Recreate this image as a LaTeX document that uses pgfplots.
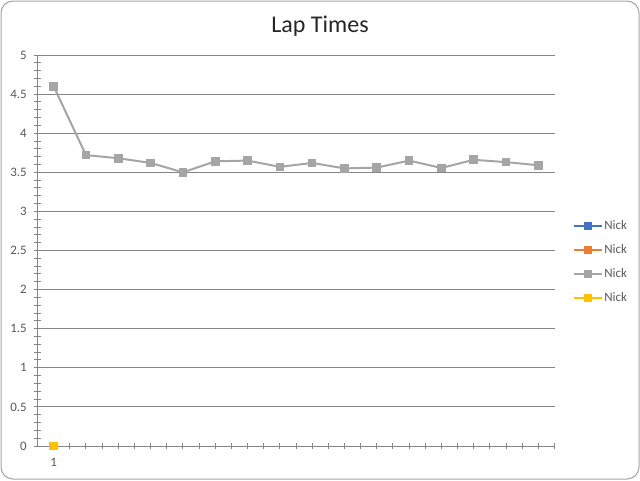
\documentclass[border=0pt]{standalone}
\usepackage{fontspec}
\setmainfont{Carlito}
\usepackage{pgfplots}
\pgfplotsset{compat=1.18}
\definecolor{xblue}{HTML}{4472C4}
\definecolor{xorange}{HTML}{ED7D31}
\definecolor{xgray}{HTML}{A5A5A5}
\definecolor{xyellow}{HTML}{FFC000}
\definecolor{gridc}{HTML}{868686}
\definecolor{labc}{HTML}{595959}
\pgfplotsset{mylegend/.style={legend image code/.code={
    \draw[##1, mark repeat=2, mark phase=2] plot coordinates {(0pt,0pt) (10.5pt,0pt) (21pt,0pt)};
  }}}
\begin{document}
\begin{tikzpicture}
\begin{scope}[x=0.75pt,y=0.75pt]
\useasboundingbox (0,0) rectangle (640,480);
\draw[draw=black!35, fill=white, line width=0.75pt, rounded corners=9] (1,1) rectangle (639,479);
\node[font=\fontsize{18}{21}\selectfont, text=black!85] at (320,454) {Lap Times};
\end{scope}
\begin{axis}[
  at={(28.125pt,25.5pt)}, anchor=south west,
  scale only axis, width=387.75pt, height=293.25pt,
  xmin=0.5, xmax=16.5, ymin=0, ymax=5,
  axis lines=left,
  axis line style={-, draw=gridc, line width=0.75pt},
  clip=false,
  ytick={0,0.5,...,5},
  minor y tick num=4,
  xtick={1},
  extra x ticks={1.5,2,...,16.5},
  extra x tick labels={},
  extra x tick style={grid=none},
  tick align=center,
  major tick length=5pt, minor tick length=5pt,
  tick style={draw=gridc, line width=0.75pt},
  ymajorgrids,
  major grid style={draw=gridc, line width=0.75pt},
  tick label style={font=\fontsize{9.7}{11}\selectfont, text=labc},
  /pgf/number format/assume math mode=true,
  yticklabel style={/pgf/number format/fixed, xshift=-2pt},
  xticklabel style={yshift=-3pt},
  legend cell align=left,
  legend style={at={(1.0358,0.471)}, anchor=west, draw=none, fill=none,
    inner sep=0pt, outer sep=0pt,
    font=\fontsize{9.7}{11}\selectfont, text=labc,
    nodes={inner sep=1pt, text height=7pt, text depth=2pt},
    row sep=7pt},
  every axis plot/.append style={line width=1.5pt, mark=square*, mark size=2.5pt, mark options={solid}},
]
\addplot[color=xblue, mylegend] coordinates {(1,0)};
\addlegendentry{Nick}
\addplot[color=xorange, mylegend] coordinates {(1,0)};
\addlegendentry{Nick}
\addplot[color=xgray, mylegend] coordinates {
(1,4.60) (2,3.72) (3,3.68) (4,3.62) (5,3.50) (6,3.64) (7,3.65) (8,3.57)
(9,3.62) (10,3.55) (11,3.56) (12,3.65) (13,3.555) (14,3.66) (15,3.63) (16,3.59)};
\addlegendentry{Nick}
\addplot[color=xyellow, mylegend] coordinates {(1,0)};
\addlegendentry{Nick}
\end{axis}
\end{tikzpicture}
\end{document}
